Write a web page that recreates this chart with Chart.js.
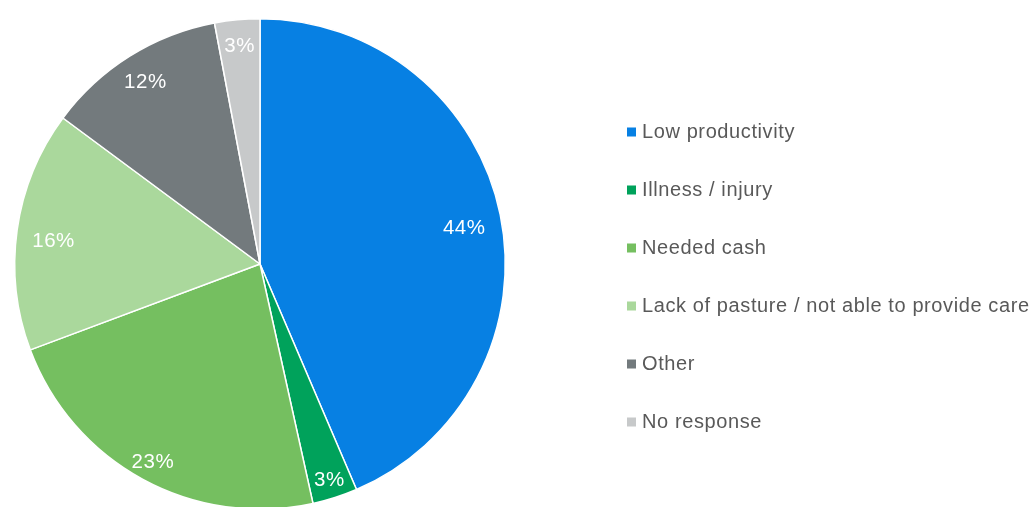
<!DOCTYPE html>
<html>
<head>
<meta charset="utf-8">
<script src="https://cdn.jsdelivr.net/npm/chart.js@4.4.1/dist/chart.umd.min.js"></script>
<style>
  html, body { margin: 0; padding: 0; background: #fff; overflow: hidden; width: 1030px; height: 507px; }
  #wrap { position: absolute; left: 0; top: 0; width: 1030px; height: 520px; }
</style>
</head>
<body>
<div id="wrap"><canvas id="pieChart" width="1030" height="520"></canvas></div>
<script>
const reasons = ['Low productivity', 'Illness / injury', 'Needed cash', 'Lack of pasture / not able to provide care', 'Other', 'No response'];
const shares = [44, 3, 23, 16, 12, 3];
const sliceColors = ['#0780E3', '#00A25B', '#75BF60', '#AAD89C', '#737A7D', '#C7C9CA'];

// how far out each percentage sits (share of radius), plus a small vertical nudge
const labelDepth = [0.85, 0.925, 0.915, 0.85, 0.88, 0.89];
const labelNudge = [6, 0, 1, 6, 1, 0];

const FONT = 'Arial, "Liberation Sans", sans-serif';

// percentage labels inside each slice
const sliceLabels = {
    id: 'sliceLabels',
    afterDatasetsDraw(chart) {
        const ctx = chart.ctx;
        const meta = chart.getDatasetMeta(0);
        ctx.save();
        ctx.fillStyle = '#ffffff';
        ctx.font = '20.5px ' + FONT;
        ctx.letterSpacing = '0.5px';
        ctx.textAlign = 'center';
        ctx.textBaseline = 'middle';
        meta.data.forEach((arc, i) => {
            const mid = (arc.startAngle + arc.endAngle) / 2;
            const r = arc.outerRadius * labelDepth[i];
            ctx.fillText(shares[i] + '%', arc.x + Math.cos(mid) * r, arc.y + Math.sin(mid) * r + labelNudge[i]);
        });
        ctx.restore();
    }
};

// legend on the right: small squares with text
const sideLegend = {
    id: 'sideLegend',
    afterDraw(chart) {
        const ctx = chart.ctx;
        ctx.save();
        ctx.font = '20px ' + FONT;
        ctx.letterSpacing = '0.6px';
        ctx.textBaseline = 'middle';
        reasons.forEach((name, i) => {
            const y = 132 + i * 58;
            ctx.fillStyle = sliceColors[i];
            ctx.fillRect(627, y - 4.5, 9, 9);
            ctx.fillStyle = '#595959';
            ctx.fillText(name, 642, y);
        });
        ctx.restore();
    }
};

const pieChart = new Chart(document.getElementById('pieChart').getContext('2d'), {
    type: 'pie',
    data: {
        labels: reasons,
        datasets: [{
            data: shares,
            backgroundColor: sliceColors,
            borderColor: '#ffffff',
            borderWidth: 1.5
        }]
    },
    options: {
        responsive: false,
        animation: false,
        events: [],
        layout: { padding: { left: 14, right: 524, top: 18, bottom: 10 } },
        plugins: {
            legend: { display: false },
            tooltip: { enabled: false }
        }
    },
    plugins: [sliceLabels, sideLegend]
});
</script>
</body>
</html>
